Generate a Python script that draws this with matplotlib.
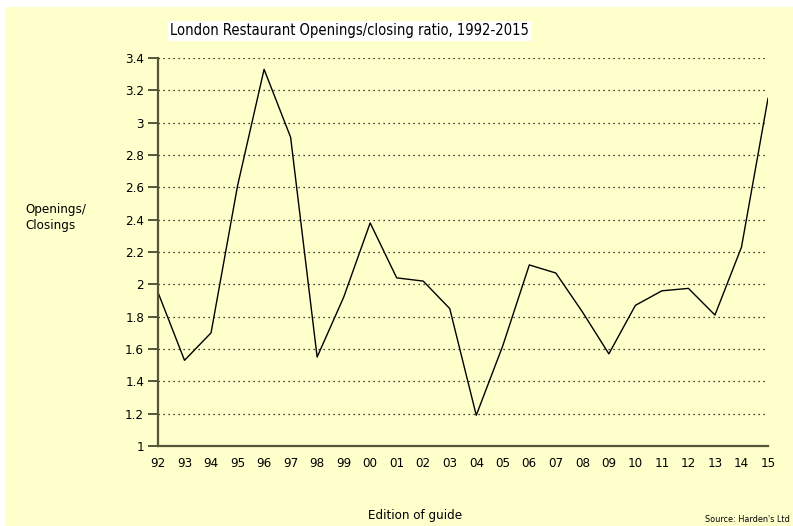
import matplotlib.pyplot as plt
from matplotlib.patches import Rectangle

# edition years (2-digit) and openings/closings ratio
editions = ["92", "93", "94", "95", "96", "97", "98", "99", "00", "01", "02", "03",
            "04", "05", "06", "07", "08", "09", "10", "11", "12", "13", "14", "15"]
ratio = [1.95, 1.53, 1.70, 2.61, 3.33, 2.91, 1.55, 1.92, 2.38, 2.04, 2.02, 1.85,
         1.19, 1.62, 2.12, 2.07, 1.83, 1.57, 1.87, 1.96, 1.975, 1.81, 2.23, 3.15]
yticks = [1, 1.2, 1.4, 1.6, 1.8, 2, 2.2, 2.4, 2.6, 2.8, 3, 3.2, 3.4]
ytick_labels = ["1", "1.2", "1.4", "1.6", "1.8", "2", "2.2", "2.4", "2.6", "2.8", "3", "3.2", "3.4"]

bg = "#ffffcc"
axis_col = "#55553a"

plt.rcParams['font.family'] = ['DejaVu Sans']
plt.rcParams['font.stretch'] = 'condensed'

fig = plt.figure(figsize=(7.93, 5.26), dpi=100)
fig.patch.set_facecolor("white")
# yellow panel with a thin white margin at top/left
fig.patches.append(Rectangle((5 / 793, 0), 1, 1 - 7 / 526, transform=fig.transFigure,
                             facecolor=bg, edgecolor="none", zorder=-10))

ax = fig.add_axes([158 / 793, 1 - 446 / 526, (768 - 158) / 793, (446 - 58) / 526])
ax.set_facecolor(bg)

x = list(range(len(editions)))
ax.plot(x, ratio, color="black", lw=1.0)

ax.set_xlim(0, len(editions) - 1)
ax.set_ylim(1, 3.4)
ax.set_yticks(yticks)
ax.set_yticklabels(ytick_labels)
ax.set_xticks(x)
ax.set_xticklabels(editions)

# dotted horizontal gridlines
for v in yticks[1:]:
    ax.axhline(v, color="black", lw=0.9, ls=(0, (1, 3)), zorder=0)

for side in ["top", "right"]:
    ax.spines[side].set_visible(False)
for side in ["left", "bottom"]:
    ax.spines[side].set_color(axis_col)
    ax.spines[side].set_linewidth(1.6)

ax.tick_params(axis="y", length=7, width=1.4, color=axis_col, labelsize=9.5, pad=3)
ax.tick_params(axis="x", length=0, labelsize=9.5, pad=8)

fig.text(170 / 793, 1 - 31 / 526, "London Restaurant Openings/closing ratio, 1992-2015",
         fontsize=10.5, va="center", ha="left",
         bbox=dict(facecolor="white", edgecolor="none", pad=1.5))
fig.text(25 / 793, 1 - 217 / 526, "Openings/\nClosings", fontsize=9.5,
         va="center", ha="left", linespacing=1.3)
fig.text(415 / 793, 1 - 515 / 526, "Edition of guide", fontsize=9.5,
         va="center", ha="center")
fig.text(790 / 793, 1 - 520 / 526, "Source: Harden's Ltd", fontsize=6.5,
         va="center", ha="right")

fig.savefig("out.png", dpi=100, facecolor=fig.get_facecolor())
